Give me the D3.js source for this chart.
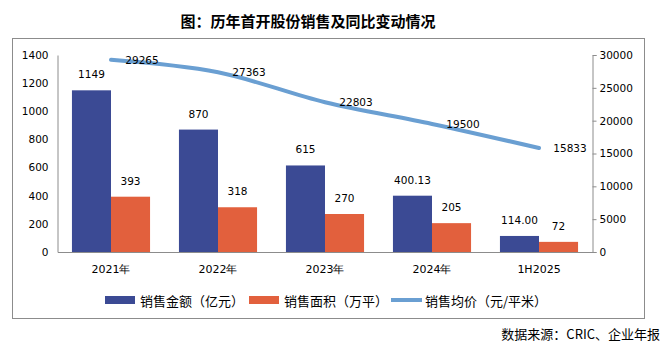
<!DOCTYPE html>
<html>
<head>
<meta charset="utf-8">
<script src="https://cdn.jsdelivr.net/npm/d3@7"></script>
<style>
  body { margin: 0; background: #fff; }
  svg { display: block; }
  .axis text { font-family: "DejaVu Sans", sans-serif; font-size: 10.5px; fill: #000; }
  .axis path, .axis line { stroke: #8c8c8c; }
</style>
</head>
<body>
<svg id="chart" width="666" height="353"></svg>
<script>
var categories = ["2021年", "2022年", "2023年", "2024年", "1H2025"]
var salesAmount = [1149, 870, 615, 400.13, 114.00]
var amountLabels = ["1149", "870", "615", "400.13", "114.00"]
var salesArea = [393, 318, 270, 205, 72]
var avgPrice = [29265, 27363, 22803, 19500, 15833]
var leftTicks = [0, 200, 400, 600, 800, 1000, 1200, 1400]
var rightTicks = [0, 5000, 10000, 15000, 20000, 25000, 30000]
var legendNames = ["销售金额（亿元）", "销售面积（万平）", "销售均价（元/平米）"]

var blue = "#3b4a94"
var orange = "#e2603d"
var lineBlue = "#6a9fd2"
var font = "'DejaVu Sans', sans-serif"
var cjk = "'Noto Sans CJK SC', sans-serif"

var svg = d3.select("#chart")

// title
svg.append("text")
    .attr("x", 308).attr("y", 20)
    .attr("text-anchor", "middle")
    .attr("dominant-baseline", "central")
    .style("font-family", cjk).style("font-size", "15px").style("font-weight", "bold")
    .text("图：历年首开股份销售及同比变动情况")

// frame
svg.append("rect")
    .attr("x", 12.5).attr("y", 38.5).attr("width", 632).attr("height", 280)
    .attr("fill", "none").attr("stroke", "#8c8c8c")

var plotLeft = 57.5, plotRight = 592.5, plotTop = 55, plotBottom = 252

var x = d3.scaleBand().domain(categories).range([plotLeft, plotRight])
    .paddingInner(0.27).paddingOuter(0.135)
var xs = d3.scaleBand().domain([0, 1]).range([0, x.bandwidth()])
var y = d3.scaleLinear().domain([0, 1400]).range([plotBottom, plotTop])
var y2 = d3.scaleLinear().domain([0, 30000]).range([plotBottom, plotTop])

// axes
svg.append("g").attr("class", "axis")
    .attr("transform", "translate(" + plotLeft + ",0)")
    .call(d3.axisLeft(y).tickValues(leftTicks).tickFormat(d3.format("d"))
        .tickSize(0).tickPadding(9))
svg.append("g").attr("class", "axis")
    .attr("transform", "translate(" + plotRight + ",0)")
    .call(d3.axisRight(y2).tickValues(rightTicks).tickFormat(d3.format("d"))
        .tickSize(4).tickSizeOuter(4).tickPadding(3))
var gx = svg.append("g").attr("class", "axis")
    .attr("transform", "translate(0," + plotBottom + ")")
    .call(d3.axisBottom(x).tickSize(0).tickSizeOuter(0).tickPadding(13))
gx.selectAll("text").style("font-size", "11px")

// bars
var groups = svg.selectAll(".grp").data(categories).enter().append("g")
    .attr("transform", function(d) { return "translate(" + x(d) + ",0)" })

groups.append("rect")
    .attr("x", xs(0)).attr("width", xs.bandwidth())
    .attr("y", function(d, i) { return y(salesAmount[i]) })
    .attr("height", function(d, i) { return plotBottom - y(salesAmount[i]) })
    .attr("fill", blue)
groups.append("rect")
    .attr("x", xs(1)).attr("width", xs.bandwidth())
    .attr("y", function(d, i) { return y(salesArea[i]) })
    .attr("height", function(d, i) { return plotBottom - y(salesArea[i]) })
    .attr("fill", orange)

groups.append("text")
    .attr("x", xs(0) + xs.bandwidth() / 2)
    .attr("y", function(d, i) { return y(salesAmount[i]) - 16 })
    .attr("text-anchor", "middle").attr("dominant-baseline", "central")
    .style("font-family", font).style("font-size", "10.5px")
    .text(function(d, i) { return amountLabels[i] })
groups.append("text")
    .attr("x", xs(1) + xs.bandwidth() / 2)
    .attr("y", function(d, i) { return y(salesArea[i]) - 16 })
    .attr("text-anchor", "middle").attr("dominant-baseline", "central")
    .style("font-family", font).style("font-size", "10.5px")
    .text(function(d, i) { return salesArea[i] })

// price line
var cx = function(i) { return x(categories[i]) + x.bandwidth() / 2 }
var line = d3.line()
    .x(function(d, i) { return cx(i) })
    .y(function(d) { return y2(d) })
    .curve(d3.curveCatmullRom.alpha(0.5))
svg.append("path").datum(avgPrice)
    .attr("d", line)
    .attr("fill", "none").attr("stroke", lineBlue).attr("stroke-width", 4)
    .attr("stroke-linecap", "round")

svg.selectAll(".plabel").data(avgPrice).enter().append("text")
    .attr("x", function(d, i) { return cx(i) + 31 })
    .attr("y", function(d) { return y2(d) })
    .attr("text-anchor", "middle").attr("dominant-baseline", "central")
    .style("font-family", font).style("font-size", "10.5px")
    .text(function(d) { return d })

// legend
var legendX = [105, 249, 391]
var lg = svg.selectAll(".lg").data(legendNames).enter().append("g")
    .attr("transform", function(d, i) { return "translate(" + legendX[i] + ",300)" })
lg.each(function(d, i) {
    var g = d3.select(this)
    if (i < 2) {
        g.append("rect").attr("x", 0).attr("y", -4).attr("width", 30).attr("height", 8)
            .attr("fill", i === 0 ? blue : orange)
    } else {
        g.append("line").attr("x1", 0).attr("x2", 31).attr("y1", 0).attr("y2", 0)
            .attr("stroke", lineBlue).attr("stroke-width", 4)
    }
    g.append("text")
        .attr("x", i < 2 ? 35 : 34).attr("y", 0)
        .attr("dominant-baseline", "central")
        .style("font-family", cjk).style("font-size", "13px")
        .text(d)
})

// source
svg.append("text")
    .attr("x", 660).attr("y", 333)
    .attr("text-anchor", "end").attr("dominant-baseline", "central")
    .style("font-family", cjk).style("font-size", "13px")
    .text("数据来源：CRIC、企业年报")
</script>
</body>
</html>
